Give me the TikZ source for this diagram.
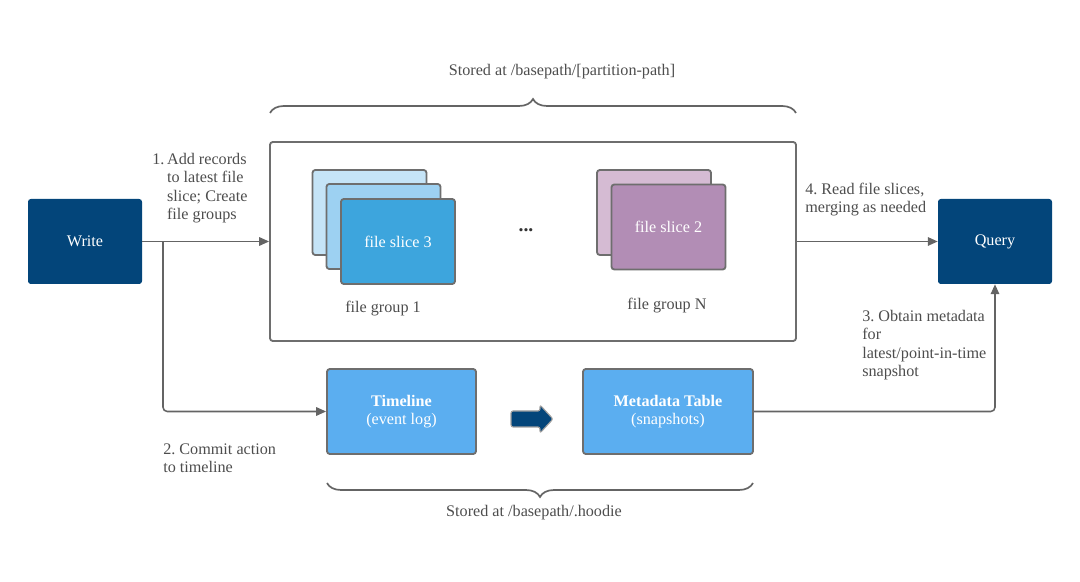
\documentclass[tikz,border=0pt]{standalone}
\usepackage{fontspec}
\setmainfont{Liberation Serif}
\usetikzlibrary{arrows.meta,decorations.pathreplacing}
\definecolor{darkblue}{RGB}{3,69,122}
\definecolor{tlblue}{RGB}{91,174,240}
\definecolor{sliceA}{RGB}{197,228,247}
\definecolor{sliceB}{RGB}{157,209,242}
\definecolor{sliceC}{RGB}{61,165,221}
\definecolor{purpA}{RGB}{213,187,211}
\definecolor{purpB}{RGB}{178,141,181}
\definecolor{bordergray}{RGB}{110,110,110}
\definecolor{linegray}{RGB}{100,100,100}
\definecolor{textgray}{RGB}{77,77,77}
\newcommand\mainfs{\fontsize{11.5}{13.1}\selectfont\frenchspacing}
\begin{document}
\begin{tikzpicture}[x=0.025cm,y=-0.025cm,
  box/.style={rectangle, rounded corners=2pt, inner sep=0pt, font=\mainfs, align=center},
  darkbox/.style={box, fill=darkblue, text=white},
  card/.style={box, draw=bordergray, line width=1.3pt, minimum width=114*0.025cm, minimum height=85*0.025cm, text=white},
  tlbox/.style={box, fill=tlblue, draw=bordergray, line width=1.3pt, text=white, minimum height=85*0.025cm},
  lbl/.style={font=\mainfs, text=textgray, anchor=north west, inner sep=0pt},
  conn/.style={draw=linegray, line width=1.1pt, -{Triangle[length=7pt,width=6pt]}},
  bracestyle/.style={draw=linegray, line width=1.2pt, decorate, decoration={brace, amplitude=0.35cm}}
]
\useasboundingbox (0,0) rectangle (1080,582);

% main boxes
\node[darkbox, minimum width=114*0.025cm, minimum height=85*0.025cm] (write) at (85,241.5) {Write};
\node[darkbox, minimum width=114*0.025cm, minimum height=85*0.025cm] (query) at (995,241.5) {Query};

% container
\node[box, draw=bordergray, line width=1.3pt, fill=white, minimum width=526*0.025cm, minimum height=199*0.025cm] (cont) at (533,241.5) {};

% file group 1
\node[card, fill=sliceA] (g1a) at (369.5,212.5) {};
\node[card, fill=sliceB] (g1b) at (383.5,226.5) {};
\node[card, fill=sliceC] (g1c) at (398,241.5) {file slice 3};
\node[lbl, anchor=center] (g1lbl) at (383,309) {file group 1};

\node[font=\fontsize{14}{14}\selectfont\bfseries, text=black!80, inner sep=0pt] (dots) at (526,230) {...};

% file group N
\node[card, fill=purpA] (gna) at (654,212.5) {};
\node[card, fill=purpB] (gnb) at (668.5,227) {file slice 2};
\node[lbl, anchor=center] (gnlbl) at (667,306) {file group N};

% timeline & metadata
\node[tlbox, minimum width=149*0.025cm] (timeline) at (401.5,411.5) {\textbf{Timeline}\\(event log)};
\node[tlbox, minimum width=170*0.025cm] (meta) at (668,411.5) {\textbf{Metadata Table}\\(snapshots)};
% fat arrow between them
\filldraw[fill=darkblue, draw=gray!75, line width=0.8pt, rounded corners=1.5pt]
  (511,411) -- (540,411) -- (540,405) -- (553,419) -- (540,433) -- (540,427) -- (511,427) -- cycle;

% braces
\draw[bracestyle] (270,113) -- (796,113);
\node[lbl, anchor=center] (toplbl) at (562,72) {Stored at /basepath/[partition-path]};
\draw[bracestyle] (753,483) -- (327,483);
\node[lbl, anchor=center] (botlbl) at (534,513) {Stored at /basepath/.hoodie};

% connectors
\coordinate (br) at (163,241.5);
\draw[conn] (write.east) -- (write.east -| cont.west);
\draw[conn, rounded corners=3pt] (br) |- (timeline.west);
\draw[conn] (cont.east |- query.west) -- (query.west);
\draw[conn, rounded corners=3pt] (meta.east) -| (query.south);

% labels
\node[lbl] (l1) at (152,151) {\begin{tabular}{@{}l@{\,}l@{}}1.&Add records\\&to latest file\\&slice; Create\\&file groups\end{tabular}};
\node[lbl] (l4) at (805,181) {\begin{tabular}{@{}l@{}}4. Read file slices,\\merging as needed\end{tabular}};
\node[lbl] (l3) at (862,308) {\begin{tabular}{@{}l@{}}3. Obtain metadata\\for\\latest/point-in-time\\snapshot\end{tabular}};
\node[lbl] (l2) at (163,441) {\begin{tabular}{@{}l@{}}2. Commit action\\to timeline\end{tabular}};
\end{tikzpicture}
\end{document}
